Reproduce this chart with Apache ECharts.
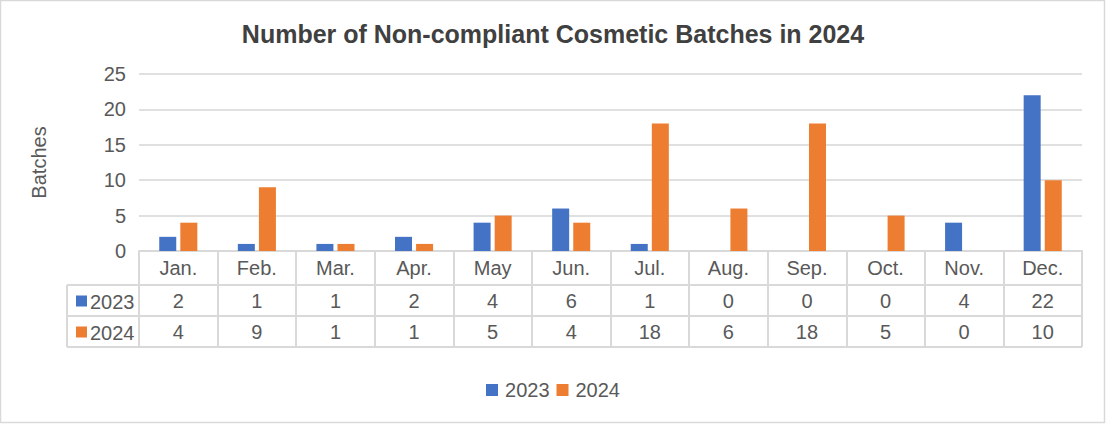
<!DOCTYPE html>
<html><head><meta charset="utf-8">
<script src="https://cdn.jsdelivr.net/npm/echarts@6/dist/echarts.min.js"></script>
<style>html,body{margin:0;padding:0;background:#fff}#c{width:1106px;height:424px}</style>
</head><body><div id="c"></div>
<script>
const months = ['Jan.','Feb.','Mar.','Apr.','May','Jun.','Jul.','Aug.','Sep.','Oct.','Nov.','Dec.'];
const s2023 = [2,1,1,2,4,6,1,0,0,0,4,22];
const s2024 = [4,9,1,1,5,4,18,6,18,5,0,10];
const seriesNames = ['2023','2024'];
const yTicks = [0,5,10,15,20,25];
const colors = ['#4472C4','#ED7D31'];
const FONT = '"Liberation Sans", Arial, sans-serif';
const txt = '#595959', line = '#d9d9d9', grid = '#e0e0e0';

const chart = echarts.init(document.getElementById('c'), null, {renderer:'svg'});
const gl = 139, gr = 1082, gt = 74, gb = 251;
const rowH = [34, 31, 31];
const y1 = gb + rowH[0], y2 = y1 + rowH[1], y3 = y2 + rowH[2];
const tableLeft = 67;
const FS = 20;
chart.setOption({
  animation:false,
  textStyle:{fontFamily:FONT},
  title:{text:'Number of Non-compliant Cosmetic Batches in 2024', left:'center', top:16,
    textStyle:{fontSize:25, fontWeight:'bold', color:'#404040', fontFamily:FONT}},
  legend:{bottom:19, left:'center', icon:'rect', itemWidth:12, itemHeight:12, itemGap:7,
    textStyle:{fontSize:FS, color:txt, fontFamily:FONT, padding:[0,0,0,2]}, data:seriesNames},
  grid:{left:gl, right:1106-gr, top:gt, bottom:424-gb, containLabel:false},
  xAxis:{type:'category', data:months,
    axisLine:{lineStyle:{color:line, width:2}},
    axisTick:{show:true, length:y3-gb, interval:0, lineStyle:{color:line, width:2}},
    axisLabel:{interval:0, margin:0, color:txt, fontSize:FS,
      formatter:(v, i)=>'{m|'+v+'}\n{a|'+s2023[i]+'}\n{b|'+s2024[i]+'}',
      rich:{m:{lineHeight:rowH[0], fontSize:FS, color:txt},
            a:{lineHeight:rowH[1], fontSize:FS, color:txt},
            b:{lineHeight:rowH[2], fontSize:FS, color:txt}}}},
  yAxis:{type:'value', min:yTicks[0], max:yTicks[yTicks.length-1], interval:5,
    name:'Batches', nameLocation:'middle', nameGap:90, nameRotate:90,
    nameTextStyle:{fontSize:FS, color:txt},
    axisLine:{show:false}, axisTick:{show:false},
    axisLabel:{fontSize:FS, color:txt, margin:13},
    splitLine:{lineStyle:{color:grid, width:2}}},
  series:[
    {name:seriesNames[0], type:'bar', data:s2023, barWidth:17, barGap:'24%', itemStyle:{color:colors[0]}},
    {name:seriesNames[1], type:'bar', data:s2024, barWidth:17, itemStyle:{color:colors[1]}}
  ],
  graphic:[
    {type:'rect', shape:{x:0.5, y:0.5, width:1104, height:422}, style:{fill:'none', stroke:line, lineWidth:1.5}, silent:true},
    {type:'line', shape:{x1:tableLeft, y1:y1, x2:gr, y2:y1}, style:{stroke:line, lineWidth:2}},
    {type:'line', shape:{x1:tableLeft, y1:y2, x2:gr, y2:y2}, style:{stroke:line, lineWidth:2}},
    {type:'line', shape:{x1:tableLeft, y1:y3, x2:gr, y2:y3}, style:{stroke:line, lineWidth:2}},
    {type:'line', shape:{x1:tableLeft, y1:y1, x2:tableLeft, y2:y3}, style:{stroke:line, lineWidth:2}},
    {type:'rect', shape:{x:76, y:(y1+y2)/2-5, width:11, height:11}, style:{fill:colors[0]}},
    {type:'rect', shape:{x:76, y:(y2+y3)/2-5, width:11, height:11}, style:{fill:colors[1]}},
    {type:'text', x:90, y:(y1+y2)/2+1, style:{text:seriesNames[0], fontSize:FS, fill:txt, fontFamily:FONT, verticalAlign:'middle'}},
    {type:'text', x:90, y:(y2+y3)/2+1, style:{text:seriesNames[1], fontSize:FS, fill:txt, fontFamily:FONT, verticalAlign:'middle'}}
  ]
});
</script></body></html>
